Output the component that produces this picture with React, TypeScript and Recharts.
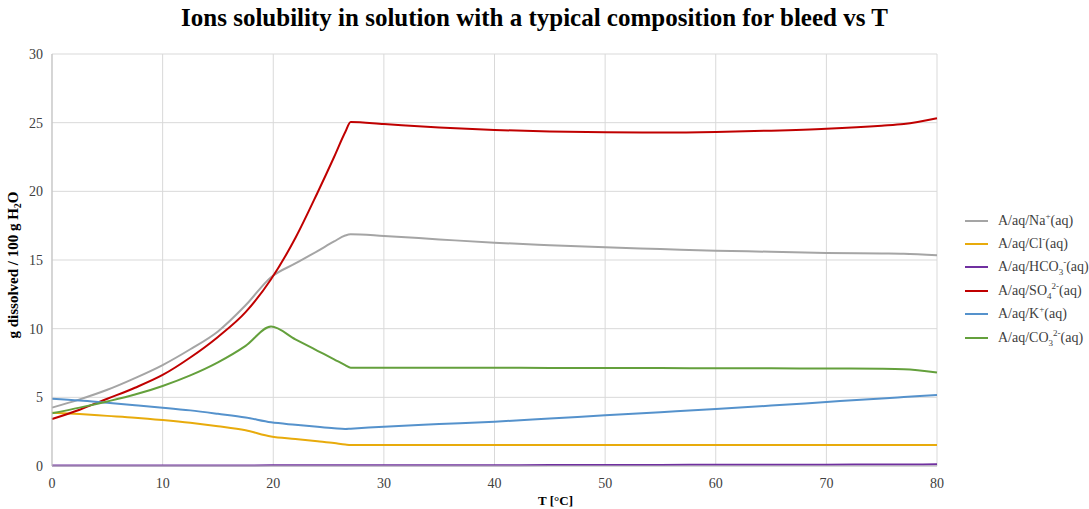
import {
  CartesianGrid,
  Label,
  Line,
  LineChart,
  XAxis,
  YAxis,
} from "recharts";

const TEMPS = [0, 2.5, 5, 7.5, 10, 12.5, 15, 17.5, 19.8, 22, 24, 25.5, 26.5, 27, 30, 35, 40, 45, 50, 55, 60, 65, 70, 75, 77, 80];

const NA = [4.25, 4.85, 5.55, 6.4, 7.35, 8.5, 9.8, 11.7, 13.75, 14.75, 15.65, 16.35, 16.78, 16.87, 16.75, 16.5, 16.26, 16.08, 15.92, 15.8, 15.68, 15.6, 15.51, 15.47, 15.45, 15.34];
const CL = [3.88, 3.78, 3.65, 3.52, 3.35, 3.15, 2.9, 2.6, 2.15, 1.97, 1.8, 1.67, 1.57, 1.53, 1.53, 1.53, 1.53, 1.53, 1.53, 1.53, 1.53, 1.53, 1.53, 1.53, 1.53, 1.53];
const HCO3 = [0.03, 0.03, 0.03, 0.04, 0.04, 0.04, 0.04, 0.04, 0.05, 0.05, 0.05, 0.05, 0.05, 0.05, 0.05, 0.06, 0.06, 0.07, 0.08, 0.08, 0.09, 0.1, 0.1, 0.11, 0.11, 0.12];
const SO4 = [3.42, 4.1, 4.9, 5.7, 6.63, 7.9, 9.4, 11.2, 13.6, 16.6, 19.9, 22.5, 24.3, 25.05, 24.9, 24.65, 24.47, 24.35, 24.3, 24.28, 24.32, 24.42, 24.56, 24.78, 24.9, 25.32];
const K = [4.9, 4.77, 4.6, 4.43, 4.25, 4.05, 3.8, 3.53, 3.18, 3.0, 2.85, 2.75, 2.7, 2.72, 2.86, 3.05, 3.23, 3.46, 3.69, 3.92, 4.15, 4.4, 4.66, 4.92, 5.02, 5.17];
const CO3 = [3.84, 4.25, 4.7, 5.2, 5.83, 6.6, 7.55, 8.75, 10.15, 9.22, 8.39, 7.77, 7.35, 7.16, 7.16, 7.15, 7.15, 7.14, 7.13, 7.13, 7.12, 7.11, 7.1, 7.08, 7.05, 6.8];

const X_TICKS = [0, 10, 20, 30, 40, 50, 60, 70, 80];
const Y_TICKS = [0, 5, 10, 15, 20, 25, 30];

const SERIES = [
  { key: "na", ion: "Na", sub: "", sup: "+", color: "#a5a5a5", values: NA },
  { key: "cl", ion: "Cl", sub: "", sup: "-", color: "#e8ab0c", values: CL },
  { key: "hco3", ion: "HCO", sub: "3", sup: "-", color: "#7030a0", values: HCO3 },
  { key: "so4", ion: "SO", sub: "4", sup: "2-", color: "#c00000", values: SO4 },
  { key: "k", ion: "K", sub: "", sup: "+", color: "#5592cc", values: K },
  { key: "co3", ion: "CO", sub: "3", sup: "2-", color: "#64a03c", values: CO3 },
];

const data = TEMPS.map((t, i) => {
  const row: Record<string, number> = { t };
  SERIES.forEach((s) => {
    row[s.key] = s.values[i];
  });
  return row;
});

const FONT = "'Liberation Serif', 'Times New Roman', serif";

function LegendBox() {
  return (
    <div
      style={{
        position: "absolute",
        left: 965,
        top: 209,
        width: 124,
        fontFamily: FONT,
        fontSize: 14,
        color: "#404040",
      }}
    >
      {SERIES.map((s) => (
        <div key={s.key} style={{ display: "flex", alignItems: "center", height: 23.4 }}>
          <span style={{ display: "inline-block", width: 23, height: 2, background: s.color, marginRight: 10 }} />
          <span style={{ whiteSpace: "nowrap" }}>
            A/aq/{s.ion}
            {s.sub && <sub style={{ fontSize: 9, lineHeight: 0 }}>{s.sub}</sub>}
            <sup style={{ fontSize: 9, lineHeight: 0 }}>{s.sup}</sup>(aq)
          </span>
        </div>
      ))}
    </div>
  );
}

function YTitle(props: any) {
  const vb = props.viewBox || { x: 0, y: 54, width: 40, height: 412 };
  const cx = 18;
  const cy = vb.y + vb.height / 2 + 5;
  return (
    <text
      x={cx}
      y={cy}
      transform={`rotate(-90 ${cx} ${cy})`}
      textAnchor="middle"
      fontFamily={FONT}
      fontWeight="bold"
      fontSize={15}
      fill="#000"
    >
      g dissolved / 100 g H
      <tspan fontSize={10} dy={3}>2</tspan>
      <tspan dy={-3}>O</tspan>
    </text>
  );
}

export default function App() {
  return (
    <div style={{ position: "absolute", left: 0, top: 0, width: 1089, height: 509, background: "#fff" }}>
      <div
        style={{
          position: "absolute",
          left: 0,
          top: 5,
          width: 1069,
          textAlign: "center",
          fontFamily: FONT,
          fontWeight: "bold",
          fontSize: 25,
          lineHeight: 1,
          color: "#000",
        }}
      >
        Ions solubility in solution with a typical composition for bleed vs T
      </div>
      <LineChart
        width={1089}
        height={509}
        data={data}
        margin={{ top: 54, right: 152, bottom: 0, left: 12 }}
      >
        <CartesianGrid stroke="#d9d9d9" />
        <XAxis
          dataKey="t"
          type="number"
          domain={[0, 80]}
          ticks={X_TICKS}
          height={43}
          tickLine={false}
          tickMargin={6}
          axisLine={{ stroke: "#bfbfbf" }}
          tick={{ fontFamily: FONT, fontSize: 14, fill: "#404040" }}
        >
          <Label
            value="T [°C]"
            position="insideBottom"
            offset={4}
            dx={61}
            style={{ fontFamily: FONT, fontWeight: "bold", fontSize: 13, fill: "#000" }}
          />
        </XAxis>
        <YAxis
          type="number"
          domain={[0, 30]}
          ticks={Y_TICKS}
          width={40}
          tickLine={false}
          tickMargin={3}
          axisLine={{ stroke: "#bfbfbf" }}
          tick={{ fontFamily: FONT, fontSize: 14, fill: "#404040" }}
        >
          <Label content={YTitle} />
        </YAxis>
        {SERIES.map((s) => (
          <Line
            key={s.key}
            dataKey={s.key}
            type="monotone"
            stroke={s.color}
            strokeWidth={2}
            dot={false}
            isAnimationActive={false}
          />
        ))}
      </LineChart>
      <LegendBox />
    </div>
  );
}
